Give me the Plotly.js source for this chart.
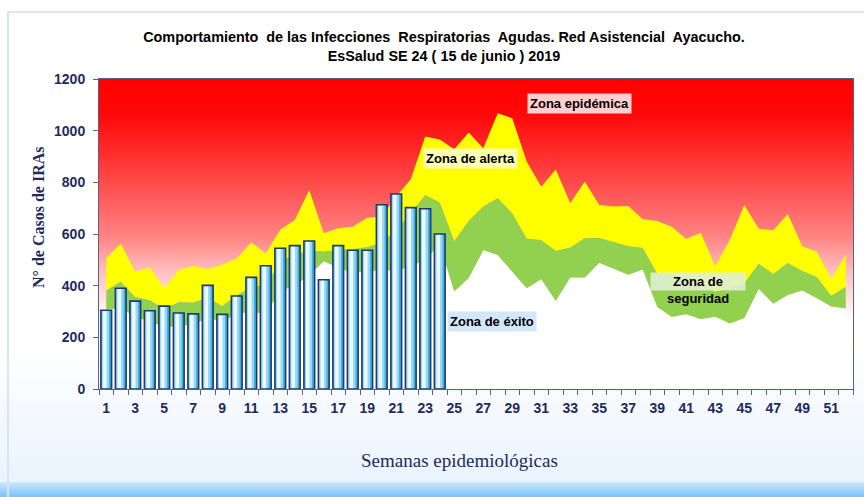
<!DOCTYPE html>
<html>
<head>
<meta charset="utf-8">
<script src="https://cdn.plot.ly/plotly-3.0.1.min.js"></script>
<style>
html,body{margin:0;padding:0;background:#ffffff;}
#wrap{position:relative;width:864px;height:497px;overflow:hidden;
  background:linear-gradient(to bottom,#ffffff 0%,#ffffff 70%,#f3f8fe 85%,#eaf4fe 96.8%,#c2e3fc 97.3%,#7cc3f8 100%);}
#frame{position:absolute;left:7px;top:11px;right:0;bottom:0;border-left:2px solid #d6e6f8;border-top:2px solid #d6e6f8;}
#chart{position:absolute;left:0;top:0;width:864px;height:497px;}
</style>
</head>
<body>
<div id="wrap"><div id="frame"></div><div id="chart"></div></div>
<script>
// Semanas epidemiológicas
const semanas = [1,2,3,4,5,6,7,8,9,10,11,12,13,14,15,16,17,18,19,20,21,22,23,24,25,26,
  27,28,29,30,31,32,33,34,35,36,37,38,39,40,41,42,43,44,45,46,47,48,49,50,51,52];
// Casos de IRAs 2019 (SE 1-24)
const semanasCasos = [1,2,3,4,5,6,7,8,9,10,11,12,13,14,15,16,17,18,19,20,21,22,23,24];
const casos2019 = [305,390,340,303,321,294,291,401,289,360,432,477,545,555,573,423,555,537,537,713,755,702,698,600];
// Límite superior zona de éxito (blanco)
const limiteExito = [308,312,280,260,240,243,250,274,261,290,299,290,380,400,440,495,470,450,455,461,
  458,474,500,560,377,430,538,519,454,390,425,341,432,432,489,467,442,463,317,279,289,270,280,254,274,
  388,330,364,381,351,319,312];
// Límite superior zona de seguridad (verde)
const limiteSeguridad = [382,416,357,345,312,337,336,354,322,364,396,403,495,522,535,533,538,542,550,567,
  616,680,751,722,573,651,706,738,680,583,577,535,548,585,585,568,554,547,448,443,436,409,377,390,410,
  486,446,489,458,435,362,396];
// Límite superior zona de alerta (amarillo) = umbral epidémico
const limiteAlerta = [506,563,454,470,390,462,477,465,481,506,567,525,616,654,770,603,622,628,663,667,
  745,812,977,966,928,993,932,1067,1048,880,783,850,719,803,712,706,708,657,650,628,581,605,474,577,712,
  620,615,677,553,532,426,521];
// Etiquetas del eje X
const tickSemanas = [1,3,5,7,9,11,13,15,17,19,21,23,25,27,29,31,33,35,37,39,41,43,45,47,49,51];
const tickTexto = ['1','3','5','7','9','11','13','15','17','19','21','23','25','27','29','31','33','35','37','39','41','43','45','47','49','51'];
const tickY = [0,200,400,600,800,1000,1200];

const sans = '"Liberation Sans",Arial,sans-serif';
const serif = '"Liberation Serif","Times New Roman",serif';
const navy = '#1f2a5c';

const svgGrad = "<svg xmlns='http://www.w3.org/2000/svg' width='100' height='100' viewBox='0 0 100 100' preserveAspectRatio='none'>" +
 "<defs><linearGradient id='g' x1='0' y1='0' x2='0' y2='1'>" +
 "<stop offset='0' stop-color='#ff0000'/>" +
 "<stop offset='0.12' stop-color='#ff0a0a'/>" +
 "<stop offset='0.29' stop-color='#ff3c3c'/>" +
 "<stop offset='0.51' stop-color='#ff8484'/>" +
 "<stop offset='0.62' stop-color='#ffbebe'/>" +
 "<stop offset='0.73' stop-color='#ffebeb'/>" +
 "<stop offset='0.78' stop-color='#ffffff'/>" +
 "<stop offset='1' stop-color='#ffffff'/>" +
 "</linearGradient></defs><rect x='0' y='0' width='100' height='100' fill='url(#g)'/></svg>";
const gradURI = 'data:image/svg+xml;charset=utf-8,' + encodeURIComponent(svgGrad);

const barBase = {x: semanasCasos, y: casos2019, type: 'bar', xaxis: 'x2', yaxis: 'y2', hoverinfo: 'skip'};
const traces = [
  {x: semanas, y: limiteExito, type: 'scatter', mode: 'lines', line: {width: 0, color: '#ffffff'},
   fill: 'tozeroy', fillcolor: '#ffffff', hoverinfo: 'skip'},
  {x: semanas, y: limiteSeguridad, type: 'scatter', mode: 'lines', line: {width: 0, color: '#92d050'},
   fill: 'tonexty', fillcolor: '#92d050', hoverinfo: 'skip'},
  {x: semanas, y: limiteAlerta, type: 'scatter', mode: 'lines', line: {width: 0, color: '#ffff00'},
   fill: 'tonexty', fillcolor: '#ffff00', hoverinfo: 'skip'},
  Object.assign({}, barBase, {width: 0.74, offset: -0.37, marker: {color: '#3cb3e4', line: {width: 0}}}),
  Object.assign({}, barBase, {width: 0.52, offset: -0.33, marker: {color: '#98d8f2', line: {width: 0}}}),
  Object.assign({}, barBase, {width: 0.24, offset: -0.22, marker: {color: '#eef9fe', line: {width: 0}}}),
  Object.assign({}, barBase, {width: 0.74, offset: -0.37, marker: {color: 'rgba(0,0,0,0)', line: {width: 1.6, color: '#23386b'}}})
];

const layout = {
  width: 864, height: 497,
  margin: {l: 99, r: 11, t: 79, b: 108, pad: 0},
  paper_bgcolor: 'rgba(0,0,0,0)', plot_bgcolor: 'rgba(0,0,0,0)',
  showlegend: false, barmode: 'overlay',
  title: {text: 'Comportamiento  de las Infecciones  Respiratorias  Agudas. Red Asistencial  Ayacucho.<br>EsSalud SE 24 ( 15 de junio ) 2019',
    x: 444/864, xanchor: 'center', xref: 'container', y: 1 - 42/497, yanchor: 'middle', yref: 'container',
    font: {family: sans, size: 14.4, color: '#000000', weight: 'bold'}},
  xaxis: {range: [0.5, 52.5], tickmode: 'array', tickvals: tickSemanas, ticktext: tickTexto,
    ticks: '', showgrid: false, zeroline: false, showline: true, mirror: true, linecolor: '#56618a', linewidth: 1,
    tickfont: {family: sans, size: 14, color: navy, weight: 'bold'},
    minor: {tickmode: 'linear', tick0: 0.5, dtick: 1, ticks: 'outside', ticklen: 5, tickcolor: '#56618a', showgrid: false},
    ticklabelstandoff: 6, fixedrange: true},
  yaxis: {range: [0, 1200], tickmode: 'array', tickvals: tickY, ticks: 'outside', ticklen: 5, tickcolor: '#56618a',
    showgrid: false, zeroline: false, showline: true, mirror: true, linecolor: '#56618a', linewidth: 1,
    tickfont: {family: sans, size: 14, color: navy, weight: 'bold'}, ticklabelstandoff: 5, fixedrange: true},
  xaxis2: {range: [0.5, 52.5], overlaying: 'x', visible: false, showgrid: false, zeroline: false, fixedrange: true},
  yaxis2: {range: [0, 1200], overlaying: 'y', visible: false, showgrid: false, zeroline: false, fixedrange: true},
  images: [{source: gradURI, xref: 'x domain', yref: 'y domain', x: 0, y: 1, sizex: 1, sizey: 1,
    xanchor: 'left', yanchor: 'top', sizing: 'stretch', layer: 'below'}],
  annotations: [
    {text: 'N° de Casos de IRAs', xref: 'paper', yref: 'paper', x: (38 - 99)/754, y: (389 - 217)/310,
     xanchor: 'center', yanchor: 'middle', textangle: -90, showarrow: false,
     font: {family: serif, size: 16, color: navy, weight: 'bold'}},
    {text: 'Semanas epidemiológicas', xref: 'paper', yref: 'paper', x: (459 - 99)/754, y: (389 - 460)/310,
     xanchor: 'center', yanchor: 'middle', showarrow: false,
     font: {family: serif, size: 19, color: navy}},
    {text: 'Zona epidémica', xref: 'paper', yref: 'paper', x: (579 - 99)/754, y: (389 - 103)/310,
     xanchor: 'center', yanchor: 'middle', showarrow: false, bgcolor: 'rgba(255,228,228,0.9)', borderpad: 2,
     font: {family: sans, size: 13, color: '#000000', weight: 'bold'}},
    {text: 'Zona de alerta', xref: 'paper', yref: 'paper', x: (470 - 99)/754, y: (389 - 158)/310,
     xanchor: 'center', yanchor: 'middle', showarrow: false, bgcolor: 'rgba(255,255,200,0.9)', borderpad: 2,
     font: {family: sans, size: 13, color: '#000000', weight: 'bold'}},
    {text: 'Zona de éxito', xref: 'paper', yref: 'paper', x: (492 - 99)/754, y: (389 - 321)/310,
     xanchor: 'center', yanchor: 'middle', showarrow: false, bgcolor: 'rgba(205,228,250,0.9)', borderpad: 2,
     font: {family: sans, size: 13, color: '#000000', weight: 'bold'}},
    {text: 'Zona de', xref: 'paper', yref: 'paper', x: (698 - 99)/754, y: (389 - 281)/310,
     xanchor: 'center', yanchor: 'middle', showarrow: false, bgcolor: 'rgba(225,240,210,0.9)', borderpad: 1,
     width: 92, font: {family: sans, size: 13, color: '#000000', weight: 'bold'}},
    {text: 'seguridad', xref: 'paper', yref: 'paper', x: (698 - 99)/754, y: (389 - 298)/310,
     xanchor: 'center', yanchor: 'middle', showarrow: false,
     font: {family: sans, size: 13, color: '#000000', weight: 'bold'}}
  ]
};

Plotly.newPlot('chart', traces, layout, {staticPlot: true, displayModeBar: false});
</script>
</body>
</html>
